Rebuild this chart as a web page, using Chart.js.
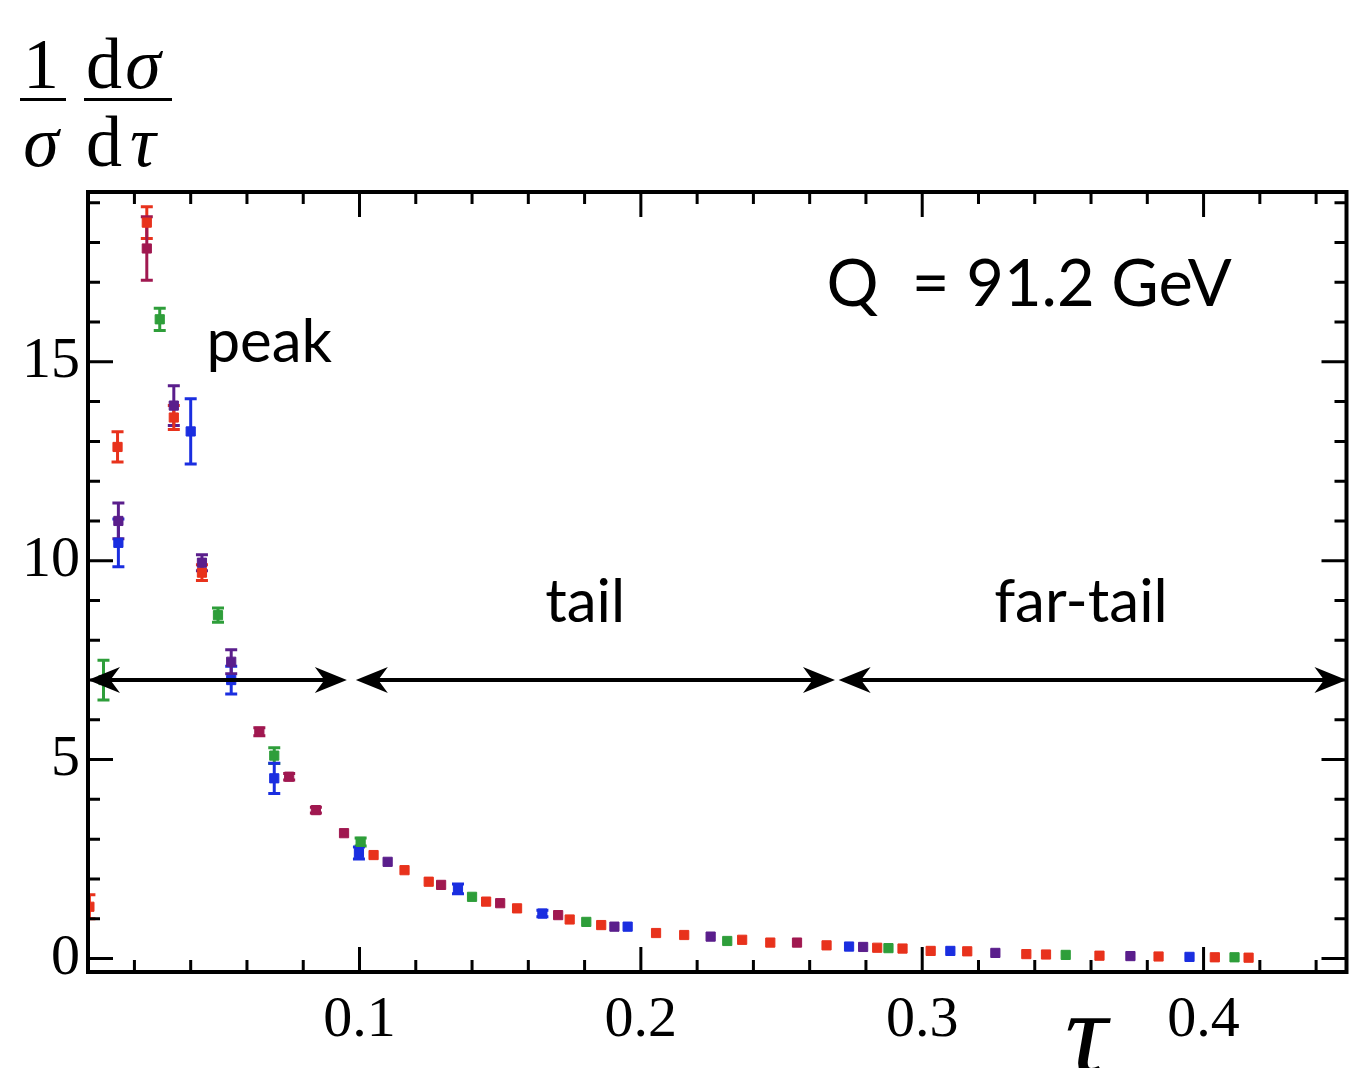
<!DOCTYPE html>
<html>
<head>
<meta charset="utf-8">
<script src="https://cdn.jsdelivr.net/npm/chart.js@4.4.1/dist/chart.umd.min.js"></script>
<style>
  html, body { margin: 0; padding: 0; background: #fff; }
  #wrap { width: 1354px; height: 1068px; position: relative; overflow: hidden; }
</style>
</head>
<body>
<div id="wrap"><canvas id="thrust" width="1354" height="1068"></canvas></div>
<script>
// thrust distribution, Q = 91.2 GeV
var redTau = [0.004, 0.014, 0.0244, 0.034, 0.044, 0.105, 0.116, 0.1246, 0.145, 0.156, 0.1747, 0.1859, 0.2054, 0.2154, 0.236, 0.246, 0.266, 0.284, 0.293, 0.303, 0.316, 0.337, 0.344, 0.363, 0.384, 0.404, 0.416];
var redVal = [1.3, 12.86, 18.5, 13.6, 9.7, 2.6, 2.22, 1.93, 1.43, 1.26, 0.98, 0.84, 0.64, 0.59, 0.47, 0.40, 0.33, 0.27, 0.25, 0.19, 0.18, 0.11, 0.10, 0.07, 0.05, 0.03, 0.02];
var redErr = [0.3, 0.38, 0.4, 0.3, 0.2, 0.06, 0.05, 0.05, 0.04, 0.04, 0.03, 0.03, 0.02, 0.02, 0.02, 0.02, 0.02, 0.02, 0.02, 0.01, 0.01, 0.01, 0.01, 0.01, 0.01, 0.01, 0.01];

var maroonTau = [0.0244, 0.0644, 0.075, 0.0845, 0.0945, 0.129, 0.150, 0.1706, 0.2555];
var maroonVal = [17.85, 5.70, 4.57, 3.73, 3.15, 1.85, 1.39, 1.09, 0.40];
var maroonErr = [0.8, 0.1, 0.08, 0.07, 0.06, 0.04, 0.03, 0.03, 0.02];

var purpleTau = [0.0143, 0.034, 0.044, 0.0544, 0.110, 0.1906, 0.2248, 0.279, 0.326, 0.374];
var purpleVal = [11.0, 13.9, 9.95, 7.46, 2.43, 0.80, 0.55, 0.29, 0.14, 0.06];
var purpleErr = [0.45, 0.5, 0.2, 0.3, 0.05, 0.03, 0.02, 0.02, 0.01, 0.01];

var greenTau = [0.009, 0.029, 0.0497, 0.0697, 0.1004, 0.140, 0.1806, 0.2307, 0.288, 0.351, 0.411];
var greenVal = [7.0, 16.07, 8.63, 5.1, 2.93, 1.55, 0.92, 0.44, 0.26, 0.09, 0.03];
var greenErr = [0.5, 0.28, 0.18, 0.2, 0.1, 0.05, 0.04, 0.03, 0.02, 0.01, 0.01];

var blueTau = [0.0143, 0.040, 0.0544, 0.0697, 0.0998, 0.135, 0.165, 0.1953, 0.274, 0.310, 0.395];
var blueVal = [10.45, 13.25, 7.0, 4.53, 2.65, 1.75, 1.13, 0.80, 0.30, 0.19, 0.04];
var blueErr = [0.6, 0.82, 0.35, 0.38, 0.15, 0.12, 0.08, 0.06, 0.02, 0.02, 0.01];

// axis ticks
var xMajorTicks = [0.1, 0.2, 0.3, 0.4];
var yMajorTicks = [0, 5, 10, 15];

// region arrows (tau from, tau to) at one height
var arrowLevel = 7.0;
var arrowFrom = [0.0035, 0.0987, 0.2703];
var arrowTo   = [0.0955, 0.269, 0.4508];

// region labels
var regionText = ['peak', 'tail', 'far-tail'];
var regionTau  = [0.0456, 0.166, 0.3256];
var regionVal  = [15.0, 8.45, 8.45];

function pts(tau, val) {
  return tau.map(function(t, i) { return { x: t, y: val[i] }; });
}

function series(tau, val, err, color) {
  return {
    data: pts(tau, val),
    errors: err,
    backgroundColor: color,
    borderColor: color,
    borderWidth: 1,
    pointStyle: 'rect',
    pointRadius: 6.5,
    pointHoverRadius: 6.5
  };
}

function isMajor(v, list) {
  return list.some(function(m) { return Math.abs(m - v) < 1e-6; });
}

var errorBars = {
  id: 'errorBars',
  beforeDatasetsDraw: function(chart) {
    var ctx = chart.ctx, ys = chart.scales.y, a = chart.chartArea;
    ctx.save();
    ctx.beginPath();
    ctx.rect(a.left, a.top, a.right - a.left, a.bottom - a.top);
    ctx.clip();
    chart.data.datasets.forEach(function(ds, i) {
      var meta = chart.getDatasetMeta(i);
      ctx.strokeStyle = ds.borderColor;
      ctx.lineWidth = 3;
      meta.data.forEach(function(pt, j) {
        var v = ds.data[j].y, e = ds.errors[j];
        var top = ys.getPixelForValue(v + e);
        var bot = ys.getPixelForValue(v - e);
        if (bot - top < 5) return;
        ctx.beginPath();
        ctx.moveTo(pt.x, top); ctx.lineTo(pt.x, bot);
        ctx.moveTo(pt.x - 6, top); ctx.lineTo(pt.x + 6, top);
        ctx.moveTo(pt.x - 6, bot); ctx.lineTo(pt.x + 6, bot);
        ctx.stroke();
      });
    });
    ctx.restore();
  }
};

function arrowHead(ctx, x, y, dir) {
  var L = 32, W = 13;
  ctx.beginPath();
  ctx.moveTo(x, y);
  ctx.lineTo(x - dir * L, y - W);
  ctx.lineTo(x - dir * L * 0.7, y);
  ctx.lineTo(x - dir * L, y + W);
  ctx.closePath();
  ctx.fill();
}

var frame = {
  id: 'frame',
  afterDraw: function(chart) {
    var ctx = chart.ctx, a = chart.chartArea;
    var xs = chart.scales.x, ys = chart.scales.y;
    ctx.save();
    ctx.strokeStyle = '#000';
    ctx.fillStyle = '#000';

    // inward ticks on all four sides
    ctx.lineWidth = 3;
    ctx.beginPath();
    xs.ticks.forEach(function(t) {
      var px = xs.getPixelForValue(t.value);
      var len = isMajor(t.value, xMajorTicks) ? 25 : 12;
      ctx.moveTo(px, a.bottom); ctx.lineTo(px, a.bottom - len);
      ctx.moveTo(px, a.top); ctx.lineTo(px, a.top + len);
    });
    ys.ticks.forEach(function(t) {
      var py = ys.getPixelForValue(t.value);
      var len = isMajor(t.value, yMajorTicks) ? 25 : 12;
      ctx.moveTo(a.left, py); ctx.lineTo(a.left + len, py);
      ctx.moveTo(a.right, py); ctx.lineTo(a.right - len, py);
    });
    ctx.stroke();

    ctx.lineWidth = 4;
    ctx.strokeRect(a.left, a.top, a.right - a.left, a.bottom - a.top);

    // region arrows
    var ay = ys.getPixelForValue(arrowLevel);
    ctx.lineWidth = 4;
    for (var i = 0; i < arrowFrom.length; i++) {
      var x0 = xs.getPixelForValue(arrowFrom[i]);
      var x1 = xs.getPixelForValue(arrowTo[i]);
      ctx.beginPath();
      ctx.moveTo(x0 + 10, ay); ctx.lineTo(x1 - 10, ay);
      ctx.stroke();
      arrowHead(ctx, x0, ay, -1);
      arrowHead(ctx, x1, ay, 1);
    }

    // text labels
    ctx.font = '60px Lato, "Open Sans", sans-serif';
    ctx.textBaseline = 'alphabetic';
    ctx.textAlign = 'left';
    for (var k = 0; k < regionText.length; k++) {
      ctx.fillText(regionText[k], xs.getPixelForValue(regionTau[k]), ys.getPixelForValue(regionVal[k]));
    }
    ctx.font = '65px Lato, "Open Sans", sans-serif';
    ctx.fillText('Q  = 91.2 GeV', xs.getPixelForValue(0.266), ys.getPixelForValue(16.4));

    // y axis label: 1/sigma dsigma/dtau
    ctx.font = '72px "Liberation Serif", serif';
    ctx.textAlign = 'center';
    ctx.fillText('1', 41, 88);
    ctx.fillText('d', 104, 88);
    ctx.fillText('d', 104, 166);
    ctx.font = 'italic 72px "Liberation Serif", serif';
    ctx.fillText('\u03c3', 41, 166);
    ctx.fillText('\u03c3', 143, 88);
    ctx.fillText('\u03c4', 143, 166);
    ctx.fillRect(20, 98, 46, 3);
    ctx.fillRect(84, 98, 88, 3);

    // x axis label
    ctx.font = 'italic 118px "Liberation Serif", serif';
    ctx.fillText('\u03c4', 1086, 1073);
    ctx.restore();
  }
};

var chart = new Chart(document.getElementById('thrust'), {
  type: 'scatter',
  data: {
    datasets: [
      series(greenTau, greenVal, greenErr, '#2e9e3a'),
      series(blueTau, blueVal, blueErr, '#1a2ee0'),
      series(purpleTau, purpleVal, purpleErr, '#5a1e8c'),
      series(redTau, redVal, redErr, '#e8321c'),
      series(maroonTau, maroonVal, maroonErr, '#a01850')
    ]
  },
  options: {
    responsive: false,
    animation: false,
    layout: { padding: { top: 192, right: 2, left: 0, bottom: 0 } },
    plugins: { legend: { display: false }, tooltip: { enabled: false } },
    scales: {
      x: {
        type: 'linear',
        min: 0.0035,
        max: 0.4508,
        afterBuildTicks: function(s) {
          var t = [];
          for (var v = 0.02; v < 0.45; v += 0.02) t.push({ value: Math.round(v * 100) / 100 });
          s.ticks = t;
        },
        afterFit: function(s) { s.height = 96; },
        grid: { display: false, drawTicks: false },
        border: { display: false },
        ticks: {
          autoSkip: false,
          maxRotation: 0,
          padding: 14,
          color: '#000',
          font: { family: '"Liberation Serif", serif', size: 58 },
          callback: function(v) { return isMajor(v, xMajorTicks) ? v.toFixed(1) : ''; }
        }
      },
      y: {
        min: -0.34,
        max: 19.27,
        afterBuildTicks: function(s) {
          var t = [];
          for (var v = 0; v <= 19; v++) t.push({ value: v });
          s.ticks = t;
        },
        afterFit: function(s) { s.width = 88; },
        grid: { display: false, drawTicks: false },
        border: { display: false },
        ticks: {
          autoSkip: false,
          padding: 8,
          color: '#000',
          font: { family: '"Liberation Serif", serif', size: 58 },
          callback: function(v) { return isMajor(v, yMajorTicks) ? String(v) : ''; }
        }
      }
    }
  },
  plugins: [errorBars, frame]
});
</script>
</body>
</html>
